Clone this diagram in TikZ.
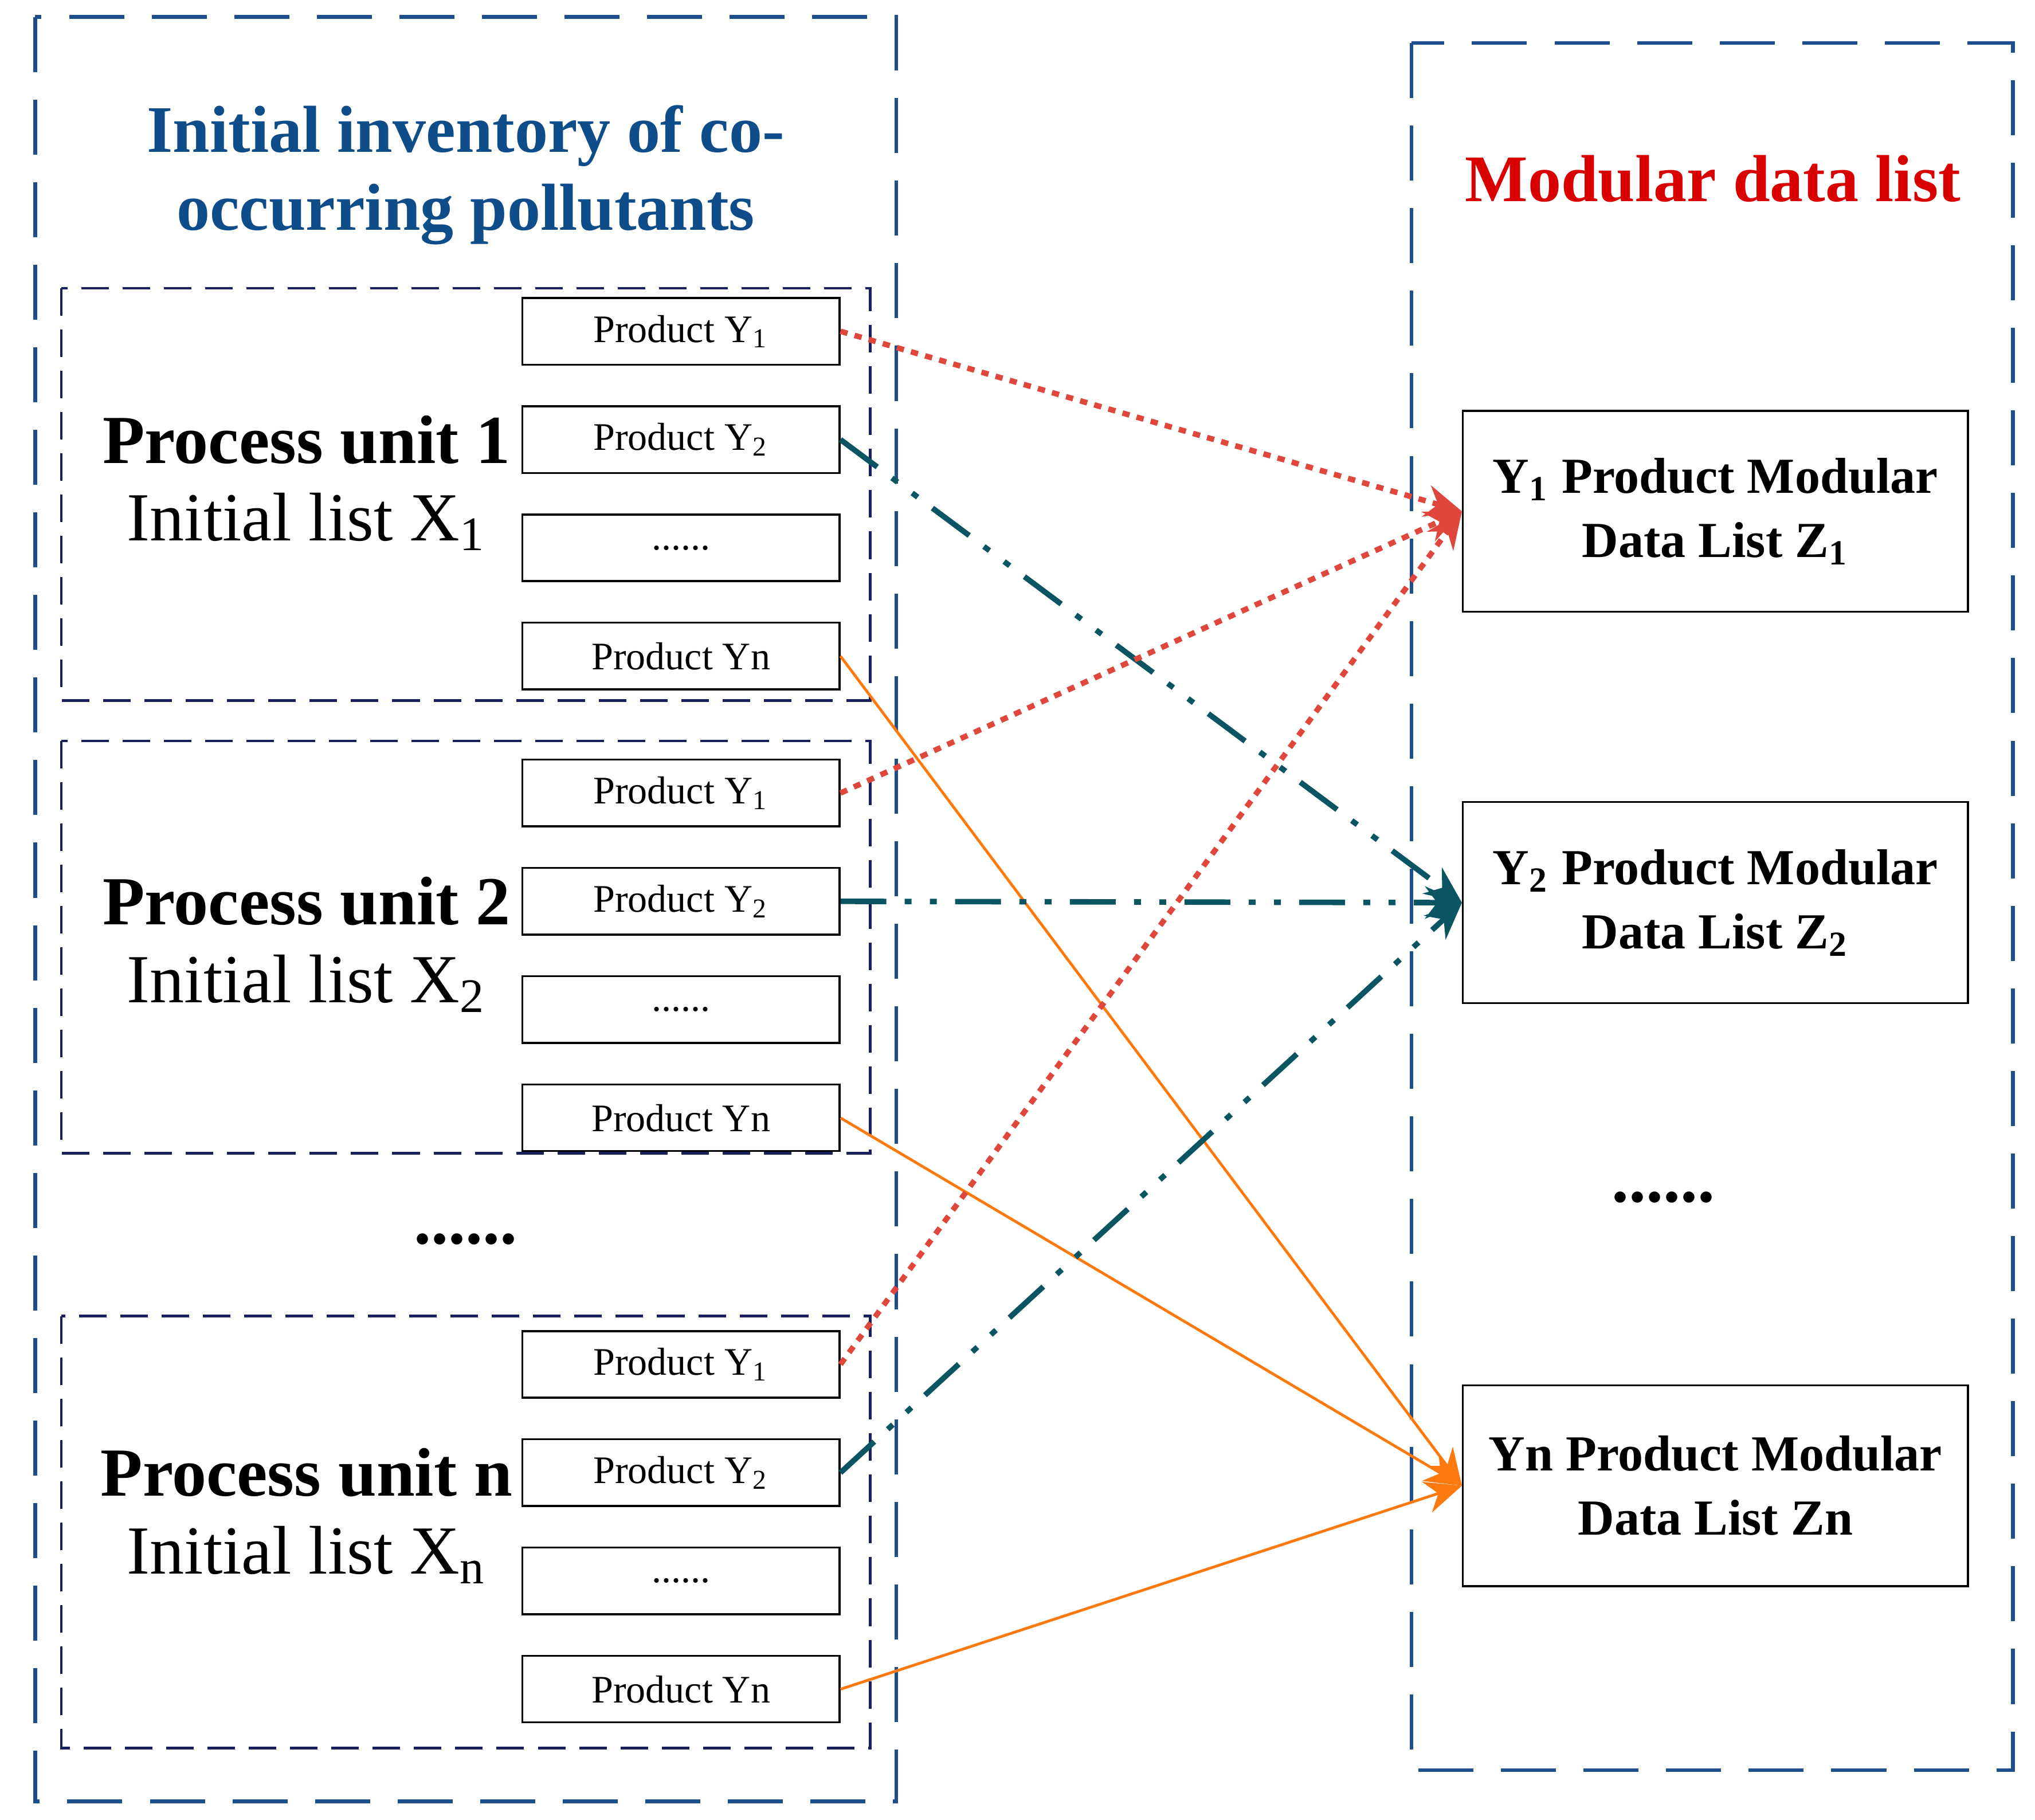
\documentclass[tikz,border=0pt]{standalone}
\usepackage{fontspec}
\setmainfont{Liberation Serif}
\usetikzlibrary{arrows.meta}
\definecolor{titleblue}{HTML}{0F4C8A}
\definecolor{boxblue}{HTML}{1F4E8C}
\definecolor{unitnavy}{HTML}{1A1F5E}
\definecolor{teal}{HTML}{0B5563}
\definecolor{dotred}{HTML}{E0473C}
\definecolor{flow}{HTML}{FF7A0E}
\tikzset{outer/.style={draw=boxblue,thick,dash pattern=on 12pt off 6pt}}
\tikzset{unit/.style={draw=unitnavy,semithick,dash pattern=on 6pt off 3pt}}
\tikzset{prod/.style={draw,fill=white,minimum width=2.43cm,minimum height=0.51cm,inner sep=0pt,font=\fontsize{8.5}{10}\selectfont}}
\tikzset{mod/.style={draw,minimum width=3.87cm,minimum height=1.54cm,align=center,font=\fontsize{11}{14}\selectfont\bfseries}}
\tikzset{r/.style={dotred,line width=1.2pt,dash pattern=on 1.6pt off 1.6pt,-{Stealth[length=8pt,width=7pt]}}}
\tikzset{g/.style={teal,line width=1.2pt,dash pattern=on 10pt off 4pt on 1.5pt off 4pt on 1.5pt off 4pt,-{Stealth[length=8pt,width=7pt]}}}
\tikzset{o/.style={flow,semithick,-{Stealth[length=8pt,width=7pt]}}}

\begin{document}
\begin{tikzpicture}[x=0.01cm,y=-0.01cm]
  \useasboundingbox (0,0) rectangle (1560,1395);
  \draw[outer] (27,13) rectangle (687,1381);
  \draw[outer] (1082,33) rectangle (1543,1357);
  \node[titleblue,align=center,font=\fontsize{14.5}{17}\selectfont\bfseries] (T) at (357,134) {Initial inventory of co-\\occurring pollutants};
  \node[red!85!black,font=\fontsize{14.5}{17}\selectfont\bfseries] (M) at (1313,137) {Modular data list};
  \draw[unit] (47,221) rectangle (667,537);
  \draw[unit] (47,568) rectangle (667,884);
  \draw[unit] (47,1009) rectangle (667,1340);
  \foreach \u/\y/\s in {1/254/1,2/608/2,n/1046/n}{
    \node[prod] (A\u) at (522,\y) {Product Y\textsubscript{1}};
    \node[prod] (B\u) at (522,\y+83) {Product Y\textsubscript{2}};
    \node[prod] (C\u) at (522,\y+166) {......};
    \node[prod] (D\u) at (522,\y+249) {Product Yn};
    \node[font=\fontsize{15}{17}\selectfont\bfseries] (P\u) at (235,\y+83) {Process unit \u};
    \node[font=\fontsize{15}{17}\selectfont] (I\u) at (235,\y+146) {Initial list X\textsubscript{\s}};
  }
  \node[font=\fontsize{15}{17}\selectfont\bfseries] (E1) at (357,950) {......};
  \node[font=\fontsize{15}{17}\selectfont\bfseries] (E2) at (1275,918) {......};
  \node[mod] (Z1) at (1315,392) {Y\textsubscript{1} Product Modular\\Data List Z\textsubscript{1}};
  \node[mod] (Z2) at (1315,692) {Y\textsubscript{2} Product Modular\\Data List Z\textsubscript{2}};
  \node[mod] (Zn) at (1315,1139) {Yn Product Modular\\Data List Zn};
  \foreach \u in {1,2,n}{
    \draw[r] (A\u.east) -- (Z1.west);
    \draw[g] (B\u.east) -- (Z2.west);
    \draw[o] (D\u.east) -- (Zn.west);
  }
\end{tikzpicture}
\end{document}
